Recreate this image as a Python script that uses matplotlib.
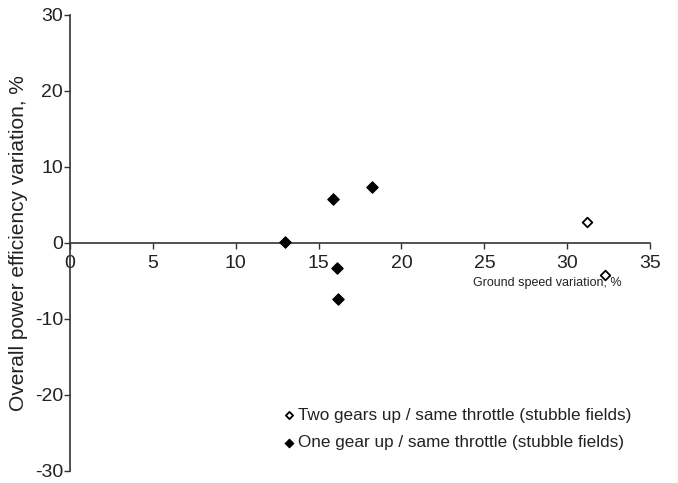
import matplotlib
matplotlib.use("Agg")
import matplotlib.pyplot as plt

# --- Data ---
one_gear_x = [13.0, 15.9, 18.2, 16.1, 16.2]
one_gear_y = [0.1, 5.8, 7.4, -3.3, -7.4]
two_gears_x = [31.2, 32.3]
two_gears_y = [2.8, -4.2]

x_ticks = [0, 5, 10, 15, 20, 25, 30, 35]
y_ticks = [-30, -20, -10, 0, 10, 20, 30]

plt.rcParams['font.family'] = ['Liberation Sans', 'DejaVu Sans']
plt.rcParams['axes.unicode_minus'] = False
AX_COL = '#333333'
TXT_COL = '#222222'

fig = plt.figure(figsize=(6.78, 4.83), dpi=100)
ax = fig.add_axes([0.103, 0.025, 0.856, 0.944])

ax.scatter(two_gears_x, two_gears_y, marker='D', s=24, facecolor='white',
           edgecolor='black', linewidth=1.3, label='Two gears up / same throttle (stubble fields)', zorder=3)
ax.scatter(one_gear_x, one_gear_y, marker='D', s=34, facecolor='black',
           edgecolor='black', linewidth=0.8, label='One gear up / same throttle (stubble fields)', zorder=3)

ax.set_xlim(0, 35)
ax.set_ylim(-30, 30)
ax.set_xticks(x_ticks)
ax.set_yticks(y_ticks)

# spines through the origin
ax.spines['left'].set_position(('data', 0))
ax.spines['bottom'].set_position(('data', 0))
ax.spines['right'].set_visible(False)
ax.spines['top'].set_visible(False)
for s in ('left', 'bottom'):
    ax.spines[s].set_color(AX_COL)
    ax.spines[s].set_linewidth(1.2)

ax.tick_params(axis='both', direction='out', length=4, width=1.0, color=AX_COL,
               labelsize=14, labelcolor=TXT_COL, pad=1)
ax.tick_params(axis='x', pad=5)

ax.set_ylabel('Overall power efficiency variation, %', fontsize=15, color=TXT_COL)
ax.yaxis.set_label_coords(-0.072, 0.5)

ax.text(28.8, -5.3, 'Ground speed variation, %', fontsize=9, color=TXT_COL,
        ha='center', va='center')

ax.legend(loc='lower left', bbox_to_anchor=(0.336, 0.012), frameon=False, fontsize=12.3,
          handletextpad=0.05, labelspacing=0.72, markerscale=0.75, handlelength=1.0,
          labelcolor=TXT_COL)

fig.savefig('out.png', dpi=100)
